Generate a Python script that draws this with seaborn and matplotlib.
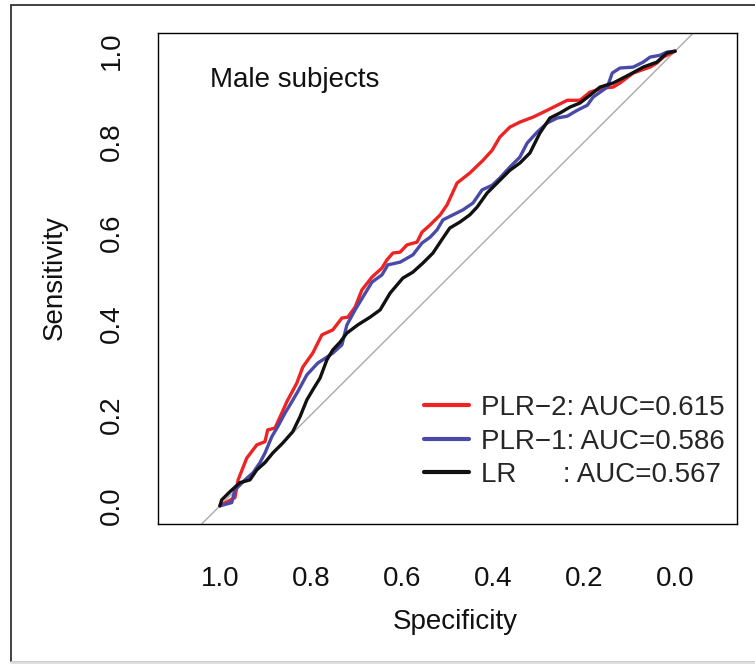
import numpy as np
import pandas as pd
import seaborn as sns
import matplotlib.pyplot as plt
from matplotlib.patches import Rectangle

# ROC curves (specificity, sensitivity)
plr2_spec = [1.000, 0.967, 0.960, 0.941, 0.919, 0.901, 0.895, 0.879, 0.864, 0.853,
             0.831, 0.818, 0.796, 0.776, 0.752, 0.732, 0.719, 0.703, 0.688, 0.666,
             0.644, 0.633, 0.620, 0.604, 0.589, 0.567, 0.556, 0.538, 0.516, 0.501,
             0.479, 0.451, 0.422, 0.402, 0.385, 0.363, 0.341, 0.312, 0.281, 0.259,
             0.237, 0.209, 0.187, 0.158, 0.136, 0.121, 0.092, 0.055, 0.040, 0.026, 0.000]
plr2_sens = [0.000, 0.018, 0.057, 0.105, 0.134, 0.141, 0.167, 0.171, 0.204, 0.229,
             0.270, 0.305, 0.336, 0.376, 0.387, 0.413, 0.415, 0.437, 0.475, 0.503,
             0.523, 0.541, 0.556, 0.558, 0.574, 0.580, 0.602, 0.618, 0.640, 0.662,
             0.710, 0.732, 0.760, 0.782, 0.811, 0.833, 0.844, 0.855, 0.870, 0.881,
             0.892, 0.892, 0.910, 0.919, 0.921, 0.930, 0.952, 0.965, 0.974, 0.987, 1.000]

plr1_spec = [1.000, 0.974, 0.967, 0.945, 0.927, 0.912, 0.901, 0.886, 0.873, 0.857,
             0.846, 0.829, 0.809, 0.785, 0.765, 0.752, 0.732, 0.721, 0.703, 0.686,
             0.666, 0.644, 0.631, 0.604, 0.576, 0.556, 0.538, 0.523, 0.510, 0.488,
             0.466, 0.444, 0.424, 0.402, 0.385, 0.363, 0.341, 0.325, 0.303, 0.281,
             0.259, 0.237, 0.215, 0.193, 0.180, 0.149, 0.138, 0.121, 0.092, 0.070,
             0.055, 0.033, 0.018, 0.000]
plr1_sens = [0.000, 0.007, 0.035, 0.057, 0.073, 0.095, 0.116, 0.152, 0.174, 0.204,
             0.222, 0.251, 0.288, 0.314, 0.327, 0.336, 0.354, 0.398, 0.431, 0.459,
             0.492, 0.508, 0.530, 0.536, 0.552, 0.578, 0.591, 0.607, 0.629, 0.640,
             0.651, 0.666, 0.695, 0.705, 0.721, 0.745, 0.767, 0.798, 0.822, 0.842,
             0.853, 0.857, 0.870, 0.881, 0.899, 0.921, 0.952, 0.963, 0.965, 0.976,
             0.987, 0.991, 0.998, 1.000]

lr_spec = [1.000, 0.996, 0.978, 0.956, 0.934, 0.919, 0.901, 0.884, 0.862, 0.840,
           0.824, 0.809, 0.796, 0.780, 0.765, 0.752, 0.736, 0.721, 0.697, 0.670,
           0.648, 0.626, 0.598, 0.576, 0.554, 0.532, 0.510, 0.495, 0.473, 0.451,
           0.435, 0.413, 0.385, 0.363, 0.341, 0.319, 0.297, 0.275, 0.253, 0.231,
           0.209, 0.187, 0.165, 0.136, 0.103, 0.070, 0.040, 0.018, 0.000]
lr_sens = [0.000, 0.013, 0.031, 0.051, 0.057, 0.079, 0.095, 0.116, 0.138, 0.163,
           0.196, 0.233, 0.255, 0.281, 0.321, 0.343, 0.360, 0.380, 0.398, 0.415,
           0.431, 0.468, 0.501, 0.514, 0.534, 0.556, 0.589, 0.611, 0.624, 0.640,
           0.657, 0.688, 0.716, 0.738, 0.754, 0.776, 0.820, 0.853, 0.864, 0.877,
           0.886, 0.903, 0.921, 0.930, 0.947, 0.965, 0.976, 0.996, 1.000]

labels = ["PLR\u22122: AUC=0.615", "PLR\u22121: AUC=0.586", "LR      : AUC=0.567"]
colors = ["#ee2424", "#4a4aa8", "#111111"]
ticks = [1.0, 0.8, 0.6, 0.4, 0.2, 0.0]

roc = pd.concat([
    pd.DataFrame({"spec": plr2_spec, "sens": plr2_sens, "model": labels[0]}),
    pd.DataFrame({"spec": plr1_spec, "sens": plr1_sens, "model": labels[1]}),
    pd.DataFrame({"spec": lr_spec, "sens": lr_sens, "model": labels[2]}),
], ignore_index=True)

sns.set_theme(style="white")
plt.rcParams['font.family'] = ['Liberation Sans', 'DejaVu Sans']

fig = plt.figure(figsize=(7.55, 6.64), dpi=100)
ax = fig.add_axes([158 / 755, 1 - 524 / 664, 579 / 755, 491 / 664])

# outer frame of the original figure (bottom edge is faint in the scan)
fig.patches.append(Rectangle((11 / 755, 2 / 664), 1.0, 657 / 664, transform=fig.transFigure,
                             fill=False, edgecolor="#333333", linewidth=1.3))
fig.add_artist(plt.Line2D([11 / 755, 1.0], [2.5 / 664, 2.5 / 664], transform=fig.transFigure,
                          color="#dddddd", linewidth=2.0))

ax.axline((1, 0), (0, 1), color="#aaaaaa", linewidth=1.0, zorder=1)
sns.lineplot(data=roc, x="spec", y="sens", hue="model", hue_order=labels,
             palette=colors, sort=False, estimator=None, linewidth=2.4, ax=ax, zorder=3)

ax.set_xlim(1.136, -0.136)
ax.set_ylim(-0.04, 1.04)
ax.set_xticks(ticks)
ax.set_yticks(ticks)
ax.set_xticklabels([f"{t:.1f}" for t in ticks])
ax.set_yticklabels([f"{t:.1f}" for t in ticks])
for lab in ax.get_yticklabels():
    lab.set_rotation(90)
    lab.set_va("center")
ax.tick_params(axis="both", direction="out", length=13.5, width=1.0, color="black",
               labelsize=20, labelcolor="#111111")
ax.tick_params(axis="x", pad=17)
ax.tick_params(axis="y", pad=10)
for s in ax.spines.values():
    s.set_color("black")
    s.set_linewidth(1.0)

ax.set_xlabel("Specificity", fontsize=20, color="#111111")
ax.set_ylabel("Sensitivity", fontsize=20, color="#111111")
ax.xaxis.set_label_coords((455 - 158) / 579, (524 - 622) / 491)
ax.yaxis.set_label_coords((55 - 158) / 579, (524 - 278) / 491)
ax.xaxis.label.set_va("center")
ax.yaxis.label.set_va("center")

ax.text(1.022, 0.936, "Male subjects", fontsize=20, color="#111111", ha="left", va="center")

leg = ax.legend(loc="lower right", bbox_to_anchor=(0.979, 0.073), frameon=False,
                fontsize=20, handlelength=1.6, handletextpad=0.45, labelspacing=0.27,
                borderaxespad=0, borderpad=0, title=None)
for line in leg.get_lines():
    line.set_linewidth(3.0)

plt.savefig("out.png", dpi=100)
